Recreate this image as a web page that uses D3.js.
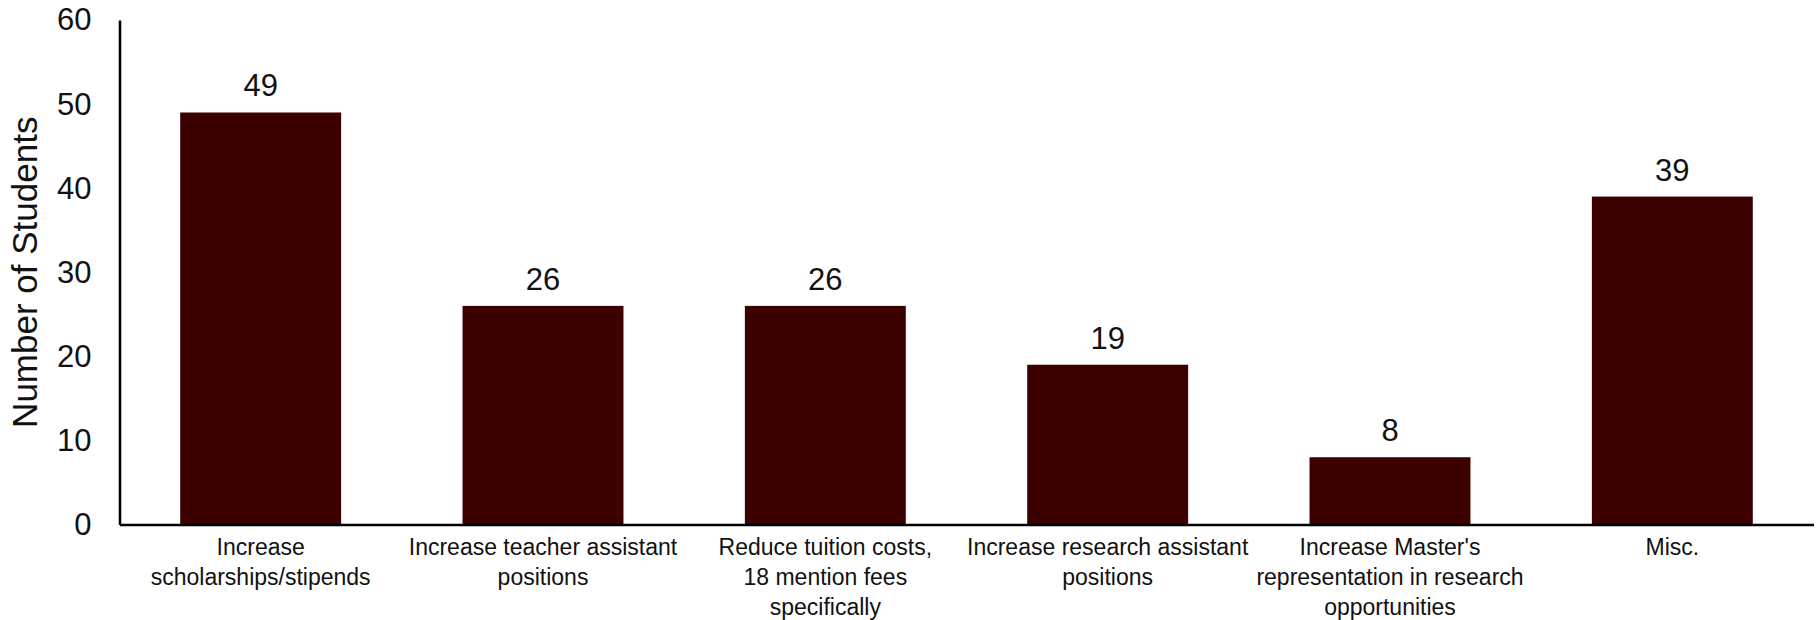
<!DOCTYPE html>
<html>
<head>
<meta charset="utf-8">
<script src="https://cdn.jsdelivr.net/npm/d3@7"></script>
<style>
  html, body { margin: 0; padding: 0; background: #fff; }
  svg { display: block; }
</style>
</head>
<body>
<svg id="chart" width="1819" height="620"></svg>
<script>
const categories = [
  ["Increase", "scholarships/stipends"],
  ["Increase teacher assistant", "positions"],
  ["Reduce tuition costs,", "18 mention fees", "specifically"],
  ["Increase research assistant", "positions"],
  ["Increase Master's", "representation in research", "opportunities"],
  ["Misc."]
];
const values = [49, 26, 26, 19, 8, 39];
const yTicks = [0, 10, 20, 30, 40, 50, 60];
const yTitle = "Number of Students";

const svg = d3.select("#chart");
const mLeft = 119.5, mRight = 1813.5, mTop = 20, mBottom = 524.5;

const x = d3.scaleBand()
  .domain(d3.range(values.length))
  .range([mLeft, mRight])
  .paddingInner(0.43)
  .paddingOuter(0.215);

const y = d3.scaleLinear().domain([0, 60]).range([mBottom, mTop]);

// bars
svg.append("g").selectAll("rect")
  .data(values)
  .join("rect")
  .attr("x", (d, i) => x(i))
  .attr("y", d => y(d))
  .attr("width", x.bandwidth())
  .attr("height", d => y(0) - y(d))
  .attr("fill", "#3c0000");

// value labels
svg.append("g").selectAll("text")
  .data(values)
  .join("text")
  .attr("x", (d, i) => x(i) + x.bandwidth() / 2)
  .attr("y", d => y(d) - 16)
  .attr("text-anchor", "middle")
  .attr("font-family", "'Liberation Sans', Arial, sans-serif")
  .attr("font-size", 31)
  .attr("fill", "#111")
  .text(d => d);

// y axis
const yAxis = d3.axisLeft(y).tickValues(yTicks).tickSize(0).tickPadding(28);
const gy = svg.append("g").attr("transform", `translate(${mLeft},0)`).call(yAxis);
gy.select(".domain").attr("stroke", "#000").attr("stroke-width", 2.5);
gy.selectAll(".tick text")
  .attr("font-family", "'Liberation Sans', Arial, sans-serif")
  .attr("font-size", 31)
  .attr("fill", "#111");

// x axis
const xAxis = d3.axisBottom(x).tickSize(0).tickFormat("");
const gx = svg.append("g").attr("transform", `translate(0,${mBottom})`).call(xAxis);
gx.select(".domain").attr("stroke", "#000").attr("stroke-width", 2.5);

// category labels
const catG = svg.append("g");
categories.forEach((lines, i) => {
  const t = catG.append("text")
    .attr("x", x(i) + x.bandwidth() / 2)
    .attr("y", 555)
    .attr("text-anchor", "middle")
    .attr("font-family", "'Liberation Sans Narrow', 'Arial Narrow', sans-serif")
    .attr("font-size", 23)
    .attr("fill", "#111");
  lines.forEach((ln, j) => {
    t.append("tspan")
      .attr("x", x(i) + x.bandwidth() / 2)
      .attr("dy", j === 0 ? 0 : 30)
      .text(ln);
  });
});

// y title
svg.append("text")
  .attr("transform", `translate(37,${(mTop + mBottom) / 2}) rotate(-90)`)
  .attr("text-anchor", "middle")
  .attr("font-family", "'Liberation Sans', Arial, sans-serif")
  .attr("font-size", 35)
  .attr("fill", "#111")
  .text(yTitle);
</script>
</body>
</html>
